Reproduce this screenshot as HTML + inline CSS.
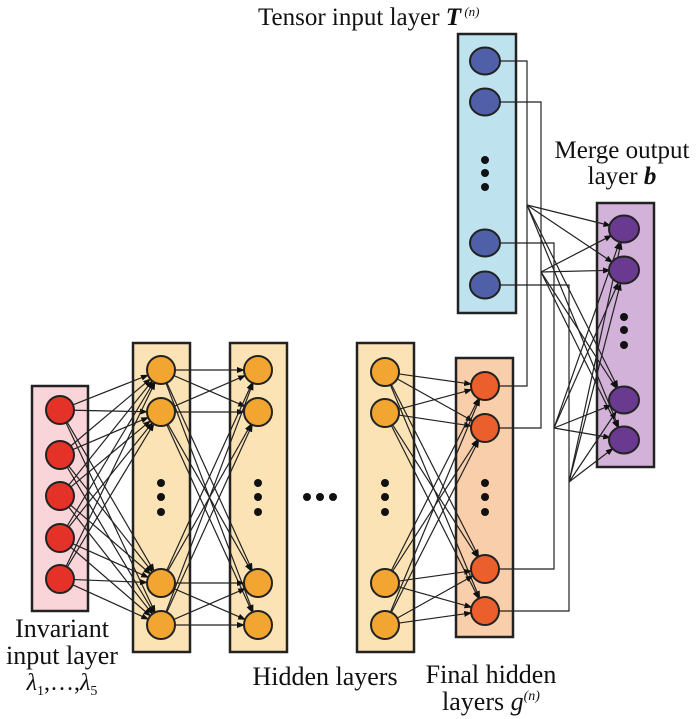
<!DOCTYPE html>
<html><head><meta charset="utf-8"><style>
html,body{margin:0;padding:0;background:#fff;}
svg{display:block;}
text{font-family:"Liberation Serif",serif;fill:#111;}
</style></head><body>
<svg id="s" width="700" height="719" viewBox="0 0 700 719" xmlns="http://www.w3.org/2000/svg">
<defs>
<marker id="a" markerWidth="8" markerHeight="6" refX="7" refY="3" orient="auto" markerUnits="userSpaceOnUse">
<path d="M0,0 L8,3 L0,6 z" fill="#111"/></marker>
</defs>
<rect x="32" y="386" width="56" height="225" fill="#f9d5da" stroke="#222" stroke-width="2.5"/>
<rect x="133" y="343" width="57" height="309" fill="#fbe3b5" stroke="#222" stroke-width="2.5"/>
<rect x="230" y="343" width="57" height="309" fill="#fbe3b5" stroke="#222" stroke-width="2.5"/>
<rect x="357" y="343" width="57" height="309" fill="#fbe3b5" stroke="#222" stroke-width="2.5"/>
<rect x="456" y="358" width="57" height="279" fill="#f9ceaa" stroke="#222" stroke-width="2.5"/>
<rect x="458" y="34" width="58" height="279" fill="#bfe2ef" stroke="#222" stroke-width="2.5"/>
<rect x="597" y="203" width="57" height="264" fill="#d2b2d8" stroke="#222" stroke-width="2.5"/>
<g id="lines" stroke="#222" stroke-width="1.2" fill="none"></g>
<g id="nodes"></g>
<text x="258" y="25" font-size="25">Tensor input layer <tspan font-weight="bold" font-style="italic">T</tspan><tspan font-size="13" font-style="italic" dy="-9"> (n)</tspan></text>
<text x="622" y="158" font-size="25" text-anchor="middle">Merge output</text>
<text x="622" y="184" font-size="25" text-anchor="middle">layer <tspan font-weight="bold" font-style="italic">b</tspan></text>
<text x="62" y="637" font-size="26" text-anchor="middle">Invariant</text>
<text x="62" y="664" font-size="26" text-anchor="middle">input layer</text>
<text x="62" y="690" font-size="24" text-anchor="middle" font-style="italic">λ<tspan font-size="14" font-style="normal" dy="5">1</tspan><tspan dy="-5" font-style="normal">,…,</tspan>λ<tspan font-size="14" font-style="normal" dy="5">5</tspan></text>
<text x="325" y="685" font-size="26" text-anchor="middle">Hidden layers</text>
<text x="491" y="683" font-size="26" text-anchor="middle">Final hidden</text>
<text x="491" y="710" font-size="26" text-anchor="middle">layers <tspan font-style="italic">g</tspan><tspan font-size="14" font-style="italic" dy="-10">(n)</tspan></text>
<g fill="#111">
<circle cx="307" cy="497" r="4"/><circle cx="320" cy="497" r="4"/><circle cx="333" cy="497" r="4"/>
</g>
</svg>
<script>
var NS="http://www.w3.org/2000/svg";
var L=document.getElementById("lines"),N=document.getElementById("nodes");
function el(p,t,a){var e=document.createElementNS(NS,t);for(var k in a)e.setAttribute(k,a[k]);p.appendChild(e);return e;}
function line(x1,y1,x2,y2,arrow){var a={x1:x1,y1:y1,x2:x2,y2:y2};if(arrow)a["marker-end"]="url(#a)";el(L,"line",a);}
function pl(pts){el(L,"polyline",{points:pts});}
var R=14;
var inv={x:60,ys:[410,455,496,538,579],c:"#e53228"};
var h1={x:161,ys:[370,412,583,625],c:"#f2a530"};
var h2={x:258,ys:[370,412,583,625],c:"#f2a530"};
var h3={x:385,ys:[372,413,583,625],c:"#f2a530"};
var fin={x:485,ys:[386,428,569,611],c:"#ea5f2c"};
var ten={x:485,ys:[61,102,243,285],c:"#5060a8",e:1};
var mer={x:624,ys:[229,270,400,440],c:"#6a3a90",e:1};
function full(A,B){A.ys.forEach(function(y1){B.ys.forEach(function(y2){
 var dx=B.x-A.x,dy=y2-y1,d=Math.sqrt(dx*dx+dy*dy);
 line(A.x+R*dx/d,y1+R*dy/d,B.x-R*dx/d,y2-R*dy/d,true);});});}
full(inv,h1);full(h1,h2);full(h3,fin);
var vx=[527,541,554,569],jy=[205,272,428,482];
for(var i=0;i<4;i++){
 pl((ten.x+R)+","+ten.ys[i]+" "+vx[i]+","+ten.ys[i]+" "+vx[i]+","+fin.ys[i]+" "+(fin.x+R)+","+fin.ys[i]);
 mer.ys.forEach(function(y2){var dx=mer.x-vx[i],dy=y2-jy[i],d=Math.sqrt(dx*dx+dy*dy);
  line(vx[i],jy[i],mer.x-R*dx/d,y2-R*dy/d,true);});
}
function nodes(A){A.ys.forEach(function(y){
 if(A.e) el(N,"ellipse",{cx:A.x,cy:y,rx:15,ry:13.5,fill:A.c,stroke:"#222","stroke-width":2});
 else el(N,"circle",{cx:A.x,cy:y,r:R,fill:A.c,stroke:"#222","stroke-width":2});});}
[inv,h1,h2,h3,fin,ten,mer].forEach(nodes);
function dots(x,ys){ys.forEach(function(y){el(N,"circle",{cx:x,cy:y,r:4,fill:"#111"});});}
dots(161,[483,497,512]);dots(258,[483,497,512]);dots(385,[483,497,512]);dots(485,[483,497,512]);
dots(485,[160,173,187]);dots(624,[317,330,345]);
</script>
</body></html>
